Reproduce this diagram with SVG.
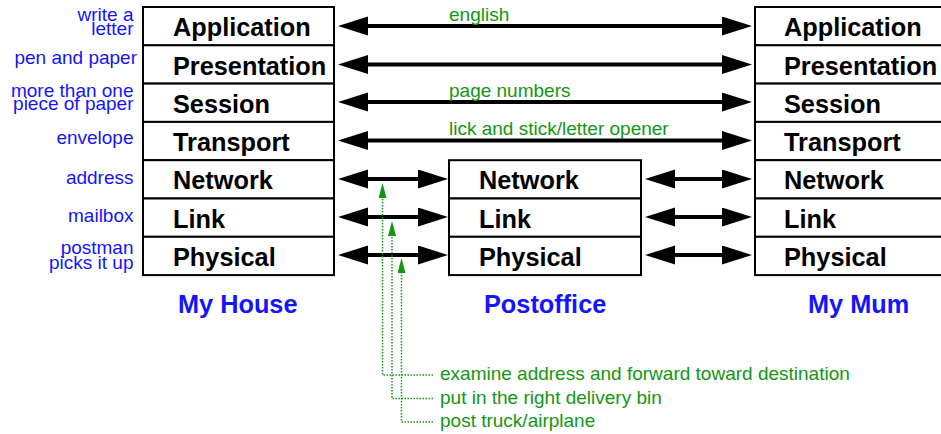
<svg xmlns="http://www.w3.org/2000/svg" width="941" height="434" viewBox="0 0 941 434">
<style>
.box{fill:#fff;stroke:#000;stroke-width:2}
.lay{font-family:"Liberation Sans",Arial,sans-serif;font-weight:bold;font-size:25.3px;fill:#000}
.cap{font-family:"Liberation Sans",Arial,sans-serif;font-weight:bold;font-size:25.3px;fill:#1414ff}
.side{font-family:"Liberation Sans",Arial,sans-serif;font-size:19px;fill:#1414ff;text-anchor:end}
.gl{font-family:"Liberation Sans",Arial,sans-serif;font-size:19px;fill:#149614}
.arr{stroke:#000;stroke-width:4;fill:none;marker-start:url(#ah);marker-end:url(#ah)}
.dot{stroke:#149614;stroke-width:1.5;fill:none;stroke-dasharray:1.5 1.5}
.up{marker-end:url(#gh)}
</style>
<defs>
<marker id="ah" markerUnits="userSpaceOnUse" markerWidth="32" markerHeight="20" refX="1" refY="9.5" orient="auto-start-reverse" viewBox="0 0 32 20">
<path d="M0,0 L30,9.5 L0,19 z" fill="#000"/>
</marker>
<marker id="gh" markerUnits="userSpaceOnUse" markerWidth="16" markerHeight="9" refX="1" refY="4" orient="auto" viewBox="0 0 16 9">
<path d="M0,0 L15,4 L0,8 z" fill="#149614"/>
</marker>
</defs>

<g id="myhouse">
<rect class="box" x="143" y="7" width="191" height="38.3"/>
<rect class="box" x="143" y="45.3" width="191" height="38.3"/>
<rect class="box" x="143" y="83.6" width="191" height="38.3"/>
<rect class="box" x="143" y="121.9" width="191" height="38.3"/>
<rect class="box" x="143" y="160.2" width="191" height="38.3"/>
<rect class="box" x="143" y="198.5" width="191" height="38.3"/>
<rect class="box" x="143" y="236.8" width="191" height="38.3"/>
<text class="lay" x="173" y="36">Application</text>
<text class="lay" x="173" y="74.5">Presentation</text>
<text class="lay" x="173" y="112.5">Session</text>
<text class="lay" x="173" y="151">Transport</text>
<text class="lay" x="173" y="189">Network</text>
<text class="lay" x="173" y="227.5">Link</text>
<text class="lay" x="173" y="266">Physical</text>
<text class="cap" x="178" y="313">My House</text>
</g>

<g id="postoffice">
<rect class="box" x="449" y="160.2" width="192" height="38.3"/>
<rect class="box" x="449" y="198.5" width="192" height="38.3"/>
<rect class="box" x="449" y="236.8" width="192" height="38.3"/>
<text class="lay" x="479" y="189">Network</text>
<text class="lay" x="479" y="227.5">Link</text>
<text class="lay" x="479" y="266">Physical</text>
<text class="cap" x="484" y="313">Postoffice</text>
</g>

<g id="mymum">
<rect class="box" x="755" y="7" width="192" height="38.3"/>
<rect class="box" x="755" y="45.3" width="192" height="38.3"/>
<rect class="box" x="755" y="83.6" width="192" height="38.3"/>
<rect class="box" x="755" y="121.9" width="192" height="38.3"/>
<rect class="box" x="755" y="160.2" width="192" height="38.3"/>
<rect class="box" x="755" y="198.5" width="192" height="38.3"/>
<rect class="box" x="755" y="236.8" width="192" height="38.3"/>
<text class="lay" x="784" y="36">Application</text>
<text class="lay" x="784" y="74.5">Presentation</text>
<text class="lay" x="784" y="112.5">Session</text>
<text class="lay" x="784" y="151">Transport</text>
<text class="lay" x="784" y="189">Network</text>
<text class="lay" x="784" y="227.5">Link</text>
<text class="lay" x="784" y="266">Physical</text>
<text class="cap" x="808" y="313">My Mum</text>
</g>

<g id="side-labels">
<text class="side" x="133.5" y="21">write a</text>
<text class="side" x="133.5" y="35">letter</text>
<text class="side" x="137" y="63.5">pen and paper</text>
<text class="side" x="133.5" y="97">more than one</text>
<text class="side" x="133.5" y="109.5">piece of paper</text>
<text class="side" x="133.5" y="143.5">envelope</text>
<text class="side" x="133.5" y="183.5">address</text>
<text class="side" x="133.5" y="222">mailbox</text>
<text class="side" x="133.5" y="254">postman</text>
<text class="side" x="133.5" y="268.5">picks it up</text>
</g>

<g id="connectors">
<line class="arr" x1="367" y1="26" x2="723" y2="26"/>
<line class="arr" x1="367" y1="64.5" x2="723" y2="64.5"/>
<line class="arr" x1="367" y1="102" x2="723" y2="102"/>
<line class="arr" x1="367" y1="140.5" x2="723" y2="140.5"/>
<line class="arr" x1="367" y1="179" x2="419" y2="179"/>
<line class="arr" x1="367" y1="217" x2="419" y2="217"/>
<line class="arr" x1="367" y1="255" x2="419" y2="255"/>
<line class="arr" x1="674" y1="179" x2="723" y2="179"/>
<line class="arr" x1="674" y1="217" x2="723" y2="217"/>
<line class="arr" x1="674" y1="255" x2="723" y2="255"/>
<polyline class="dot up" points="433,375 382.5,375 382.5,197"/>
<polyline class="dot up" points="433,398.5 392,398.5 392,235"/>
<polyline class="dot up" points="433,422 401.5,422 401.5,272"/>
</g>

<g id="green-labels">
<text class="gl" x="449" y="21">english</text>
<text class="gl" x="449" y="97">page numbers</text>
<text class="gl" x="449" y="135">lick and stick/letter opener</text>
<text class="gl" x="440" y="380">examine address and forward toward destination</text>
<text class="gl" x="440" y="403.5">put in the right delivery bin</text>
<text class="gl" x="440" y="427">post truck/airplane</text>
</g>
</svg>
